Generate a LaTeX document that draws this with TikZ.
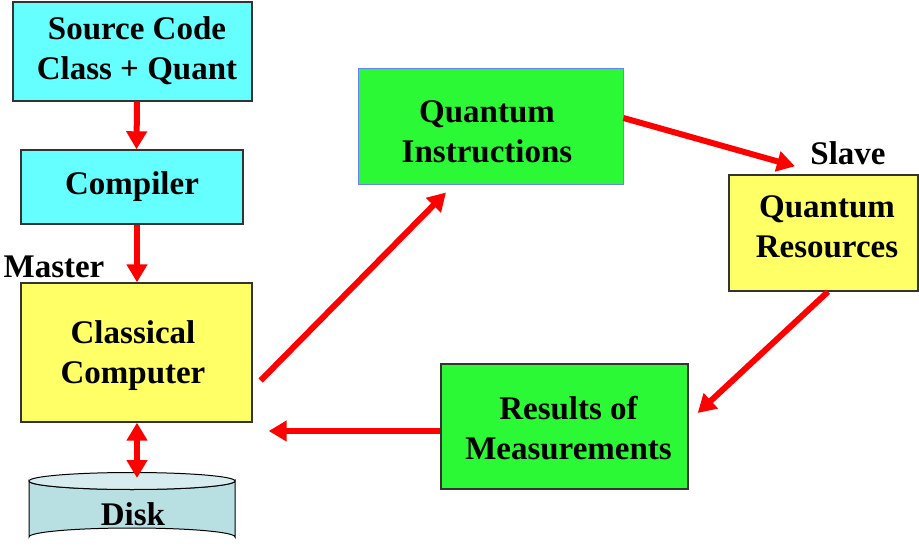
\documentclass[tikz,border=0pt]{standalone}
\usepackage{fontspec}
\setmainfont{Liberation Serif}
\usetikzlibrary{arrows.meta}
\definecolor{boxcyan}{HTML}{66FFFF}
\definecolor{boxyellow}{HTML}{FFFF66}
\definecolor{boxgreen}{HTML}{2BF936}
\definecolor{boxedge}{HTML}{333333}
\definecolor{qiedge}{HTML}{6A7FFF}
\definecolor{diskbody}{HTML}{B8DFE2}
\definecolor{disktop}{HTML}{D6ECEE}
\definecolor{flowred}{HTML}{FF0000}
\tikzset{
  txt/.style={font=\fontsize{33}{40}\selectfont\bfseries, align=center, inner sep=0pt},
  blockbox/.style={draw=boxedge, line width=1.4pt, inner sep=0pt},
  flow/.style={draw=flowred, line width=6pt,
    -{Triangle[width=20pt,length=18pt]}},
  flowboth/.style={draw=flowred, line width=6pt,
    {Triangle[width=20pt,length=18pt]}-{Triangle[width=20pt,length=18pt]}},
}
\begin{document}
\begin{tikzpicture}[x=1pt,y=-1pt]
\useasboundingbox (0,0) rectangle (919,546);

% boxes
\node[blockbox, minimum width=239pt, minimum height=99pt, fill=boxcyan] (src) at (132.5,51.5) {};
\node[blockbox, minimum width=222pt, minimum height=74pt, fill=boxcyan] (comp) at (132,187) {};
\node[blockbox, minimum width=231pt, minimum height=139pt, fill=boxyellow] (cc) at (136.5,352.5) {};
\node[blockbox, minimum width=265pt, minimum height=116pt, fill=boxgreen, draw=qiedge,
  line width=1pt] (qi) at (490.5,126) {};
\node[blockbox, minimum width=189pt, minimum height=116pt, fill=boxyellow] (qr) at (823.5,233) {};
\node[blockbox, minimum width=247pt, minimum height=125pt, fill=boxgreen] (res) at (564.5,426.5) {};

% box texts
\node[txt] (srct) at (137,50.5) {Source Code\\Class + Quant};
\node[txt] (compt) at (132,186.5) {Compiler};
\node[txt] (cct) at (133,356) {Classical\\Computer};
\node[txt] (qit) at (487,131.5) {Quantum\\Instructions};
\node[txt] (qrt) at (827,227) {Quantum\\Resources};
\node[txt] (rest) at (568.5,428) {Results of\\Measurements};

% disk drawn as a cylinder
\fill[diskbody, draw=black, line width=1pt]
  (29,481) -- (29,537) arc[start angle=180, end angle=360, x radius=103, y radius=9]
  -- (235,481) arc[start angle=0, end angle=180, x radius=103, y radius=8.5] -- cycle;
\draw[fill=disktop, line width=1pt] (132,481) ellipse[x radius=103, y radius=8.5];
\node[txt] (disk) at (133,514) {Disk};
\coordinate (diskin) at (137,478);

% side labels
\node[txt] (master) at (54,267) {Master};
\node[txt] (slave) at (848,153) {Slave};

% connectors
\draw[flow] ([xshift=4.5pt]src.south) -- ([xshift=4.5pt]comp.north);
\draw[flow] ([xshift=5pt]comp.south) -- ([xshift=0.5pt]cc.north);
\draw[flowboth] ([xshift=0.5pt]cc.south) -- (diskin);
\draw[flow] ([xshift=8pt,yshift=-28pt]cc.east) -- ([xshift=-44.5pt,yshift=-8pt]qi.south);
\draw[flow] ([yshift=8pt]qi.east) -- ([xshift=-28.5pt,yshift=8pt]qr.north);
\draw[flow] ([xshift=4.5pt]qr.south) -- ([xshift=9pt,yshift=13.5pt]res.east);
\draw[flow] ([yshift=-4.5pt]res.west) -- ([xshift=16pt,yshift=-78.5pt]cc.east);
\end{tikzpicture}
\end{document}
